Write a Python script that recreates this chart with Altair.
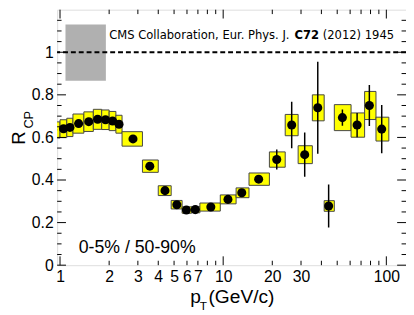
import altair as alt
import pandas as pd

# ---- data ----
pt_lo = [0.9, 1.0, 1.1, 1.2, 1.4, 1.6, 1.8, 2.0, 2.2, 2.4, 3.2, 4.0, 4.8, 5.6, 6.4, 7.2,
         9.6, 12.0, 14.4, 19.2, 24.0, 28.8, 35.2, 41.6, 48.0, 60.8, 73.6, 86.4]
pt_hi = [1.0, 1.1, 1.2, 1.4, 1.6, 1.8, 2.0, 2.2, 2.4, 3.2, 4.0, 4.8, 5.6, 6.4, 7.2, 9.6,
         12.0, 14.4, 19.2, 24.0, 28.8, 35.2, 41.6, 48.0, 60.8, 73.6, 86.4, 103.6]
pt = [0.95, 1.05, 1.15, 1.3, 1.5, 1.7, 1.9, 2.1, 2.3, 2.8, 3.55, 4.4, 5.2, 5.95, 6.75, 8.4,
      10.7, 13.0, 16.5, 21.3, 26.3, 31.6, 38.0, 44.3, 53.8, 66.2, 78.7, 93.7]
rcp = [0.635, 0.641, 0.647, 0.665, 0.674, 0.685, 0.683, 0.677, 0.662, 0.593, 0.465, 0.35,
       0.284, 0.259, 0.261, 0.273, 0.309, 0.34, 0.404, 0.496, 0.658, 0.519, 0.739, 0.278,
       0.693, 0.658, 0.75, 0.639]
sys_err = [0.038, 0.042, 0.043, 0.045, 0.046, 0.047, 0.046, 0.045, 0.042, 0.034, 0.029,
           0.023, 0.02, 0.015, 0.015, 0.019, 0.021, 0.023, 0.029, 0.036, 0.05, 0.042,
           0.061, 0.025, 0.061, 0.057, 0.066, 0.056]
stat_err = [0.004, 0.004, 0.004, 0.004, 0.004, 0.004, 0.004, 0.004, 0.004, 0.004, 0.004,
            0.004, 0.004, 0.004, 0.005, 0.006, 0.008, 0.01, 0.015, 0.047, 0.109, 0.104,
            0.216, 0.101, 0.038, 0.057, 0.096, 0.113]

norm_x = [1.08, 1.91]
norm_y = [0.866, 1.13]

x_major = [1, 10, 100]
x_minor = [2, 3, 4, 5, 6, 7, 8, 9, 20, 30, 40, 50, 60, 70, 80, 90]
x_labels = [1, 2, 3, 4, 5, 6, 7, 10, 20, 30, 100]
y_major = [0, 0.2, 0.4, 0.6, 0.8, 1.0]
y_minor = [0.05, 0.1, 0.15, 0.25, 0.3, 0.35, 0.45, 0.5, 0.55, 0.65, 0.7, 0.75,
           0.85, 0.9, 0.95, 1.05, 1.1, 1.15]

W, H = 355, 260
FONT = "Liberation Sans"

df = pd.DataFrame({"pt": pt, "lo": pt_lo, "hi": pt_hi, "r": rcp,
                   "sys": sys_err, "stat": stat_err})
df["ylo"] = df["r"] - df["sys"]
df["yhi"] = df["r"] + df["sys"]
df["slo"] = df["r"] - df["stat"]
df["shi"] = df["r"] + df["stat"]

xs = alt.Scale(type="log", domain=[0.96, 132], nice=False)
ys = alt.Scale(domain=[0, 1.2], nice=False, zero=False)
xaxis = alt.Axis(values=x_labels, format="~g", ticks=False, tickSize=0, domain=False,
                 grid=False, labelFont=FONT, labelFontSize=16, labelColor="black",
                 labelPadding=4, title=None, labelFlush=False, labelOverlap=False)
yaxis = alt.Axis(values=y_major, format="~g", ticks=False, tickSize=0, domain=False,
                 grid=False, labelFont=FONT, labelFontSize=16, labelColor="black",
                 labelPadding=4, title=None, labelFlush=False, labelOverlap=False)


def X(f):
    return alt.X(f, type="quantitative", scale=xs, axis=xaxis)


def Y(f):
    return alt.Y(f, type="quantitative", scale=ys, axis=yaxis)


base = alt.Chart(df)

norm = alt.Chart(pd.DataFrame({"x1": [norm_x[0]], "x2": [norm_x[1]],
                               "y1": [norm_y[0]], "y2": [norm_y[1]]})).mark_rect(
    color="#b0b0b0").encode(x=X("x1"), x2="x2", y=Y("y1"), y2="y2")

unity = alt.Chart(pd.DataFrame({"u": [1.0]})).mark_rule(
    color="black", strokeWidth=2, strokeDash=[5, 3]).encode(y=Y("u"))

boxes = base.mark_rect(fill="#ffff00", stroke="#444444", strokeWidth=1, clip=True).encode(
    x=X("lo"), x2="hi", y=Y("ylo"), y2="yhi")

stat = base.mark_rule(color="black", strokeWidth=1.5, clip=True).encode(
    x=X("pt"), y=Y("slo"), y2="shi")

dots = base.transform_filter("datum.pt >= 0.96").mark_circle(
    color="black", opacity=1, size=85).encode(x=X("pt"), y=Y("r"))

xmaj = alt.Chart(pd.DataFrame({"v": x_major}))
xmin = alt.Chart(pd.DataFrame({"v": x_minor}))
ymaj = alt.Chart(pd.DataFrame({"v": y_major}))
ymin = alt.Chart(pd.DataFrame({"v": y_minor}))

tick_style = dict(color="black", strokeWidth=1)
ticks = [
    xmaj.mark_rule(**tick_style).encode(x=X("v"), y=alt.value(H), y2=alt.value(H - 9)),
    xmin.mark_rule(**tick_style).encode(x=X("v"), y=alt.value(H), y2=alt.value(H - 4.5)),
    xmaj.mark_rule(**tick_style).encode(x=X("v"), y=alt.value(0), y2=alt.value(9)),
    xmin.mark_rule(**tick_style).encode(x=X("v"), y=alt.value(0), y2=alt.value(4.5)),
    ymaj.mark_rule(**tick_style).encode(y=Y("v"), x=alt.value(0), x2=alt.value(9)),
    ymin.mark_rule(**tick_style).encode(y=Y("v"), x=alt.value(0), x2=alt.value(4.5)),
    ymaj.mark_rule(**tick_style).encode(y=Y("v"), x=alt.value(W), x2=alt.value(W - 9)),
    ymin.mark_rule(**tick_style).encode(y=Y("v"), x=alt.value(W), x2=alt.value(W - 4.5)),
]


def label(text, x, y, size, font=FONT, weight="normal", align="left",
          baseline="middle", angle=0):
    return alt.Chart(pd.DataFrame({"t": [text]})).mark_text(
        font=font, fontSize=size, fontWeight=weight, align=align, baseline=baseline,
        angle=angle, color="black").encode(text="t:N", x=alt.value(x), y=alt.value(y))


texts = [
    label("CMS Collaboration, Eur. Phys. J.", 53, 26, 11.75, font="DejaVu Sans"),
    label("C72", 241.6, 26, 11.75, font="DejaVu Sans", weight="bold"),
    label("(2012) 1945", 270.3, 26, 11.75, font="DejaVu Sans"),
    label("0-5% / 50-90%", 22, 242.5, 18),
    label("R", -38.8, 130.5, 19, align="center", angle=270),
    label("CP", -29, 112, 13, align="center", angle=270),
    label("p", 135.5, 298, 19.5, baseline="alphabetic"),
    label("T", 145, 306, 12, baseline="alphabetic"),
    label("(GeV/c)", 154, 298, 19.5, baseline="alphabetic"),
]

chart = alt.layer(norm, unity, boxes, stat, dots, *ticks, *texts).properties(
    width=W, height=H, autosize="none",
    padding={"left": 50, "top": -1, "right": 0, "bottom": 48},
).configure_view(stroke="black", strokeWidth=1.5).configure(background="white")

chart.save("out.html", embed_options={"renderer": "svg", "actions": False})
